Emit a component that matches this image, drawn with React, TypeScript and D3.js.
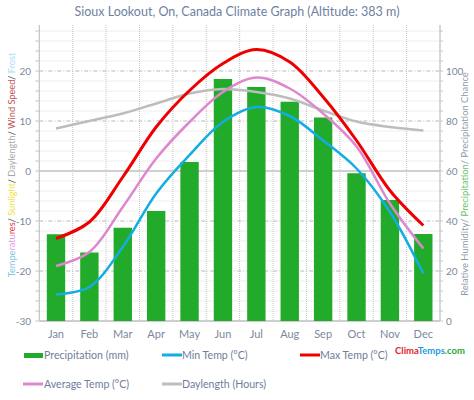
import React from "react";
import * as d3 from "d3";

const months = ["Jan", "Feb", "Mar", "Apr", "May", "Jun", "Jul", "Aug", "Sep", "Oct", "Nov", "Dec"];
const precipitation = [34.7, 27.4, 37.3, 44, 63.6, 96.8, 93.6, 87.7, 81.4, 59.1, 48.4, 34.8];
const maxTemp = [-13.5, -10.2, -1.2, 8.8, 16.1, 21.5, 24.3, 21.8, 14.8, 6.1, -3.9, -10.9];
const avgTemp = [-19, -16.2, -7.2, 2.5, 9.8, 15.8, 18.7, 16.5, 11.5, 4.9, -6.5, -15.5];
const minTemp = [-24.7, -23.2, -15.2, -4.5, 3.2, 9.8, 12.8, 11, 6.1, 0.5, -8.2, -20.5];
const daylength = [8.5, 10, 11.5, 13.5, 15.5, 16.4, 15.8, 14.5, 12.1, 9.9, 8.8, 8.1];
const leftTicks = [-30, -20, -10, 0, 10, 20];
const rightTicks = [0, 20, 40, 60, 80, 100];

const FONT = "Lato, 'Open Sans', sans-serif";
const TICK = "#7d889c";

export default function App() {
  const L = 39.3, R = 440, T = 25, B = 321;
  const x = d3.scalePoint<string>().domain(months).range([L, R]).padding(0.5);
  const step = x.step();
  const yL = d3.scaleLinear().domain([-30, 30]).range([B, B - 300]);
  const yR = d3.scaleLinear().domain([0, 120]).range([B, B - 300]);
  const barW = step * 0.55;

  const line = (vals: number[]) =>
    d3.line<number>()
      .x((_, i) => x(months[i]) as number)
      .y((v) => yL(v))
      .curve(d3.curveCatmullRom.alpha(0.5))(vals) as string;

  const minor = d3.range(-30, 29, 2);
  const vlines = d3.range(0, 13).map((i) => L + i * step);

  return (
    <svg width={474} height={400} style={{ position: "absolute", left: 0, top: 0 }} fontFamily={FONT}>
      <rect width={474} height={400} fill="#fff" />
      <text x={237} y={16} textAnchor="middle" fontSize={12.5} fill="#6f7f9f">
        Sioux Lookout, On, Canada Climate Graph (Altitude: 383 m)
      </text>

      {/* grid */}
      {minor.map((v) => {
        const major = v % 10 === 0;
        return (
          <line key={"h" + v} x1={L} x2={R} y1={yL(v)} y2={yL(v)}
            stroke={v === 0 ? "#a0a0a0" : major ? "#b8b8b8" : "#dedede"}
            strokeWidth={1}
            strokeDasharray={v === 0 || v === -30 ? undefined : major ? "4,2,1,2" : "1,1"} />
        );
      })}
      {vlines.map((vx, i) => (
        <line key={"v" + i} x1={vx} x2={vx} y1={T} y2={B} stroke="#c4c4c4" strokeDasharray="1,1" />
      ))}
      {minor.map((v) => (
        <g key={"t" + v}>
          <line x1={L - 4} x2={L} y1={yL(v)} y2={yL(v)} stroke="#c8c8c8" />
          <line x1={R} x2={R + 3} y1={yL(v)} y2={yL(v)} stroke="#c8c8c8" />
        </g>
      ))}
      <line x1={L} x2={L} y1={T} y2={B} stroke="#c0c0c0" />
      <line x1={R} x2={R} y1={T} y2={B} stroke="#c0c0c0" />
      <line x1={L} x2={R} y1={B} y2={B} stroke="#c0c0c0" />

      {/* bars */}
      {precipitation.map((p, i) => (
        <rect key={"b" + i} x={(x(months[i]) as number) - barW / 2} y={yR(p)} width={barW}
          height={B - yR(p)} fill="#22aa2b" />
      ))}

      {/* lines */}
      <path d={line(daylength)} fill="none" stroke="#bdbdbd" strokeWidth={2.5} />
      <path d={line(minTemp)} fill="none" stroke="#12aee2" strokeWidth={2.5} />
      <path d={line(avgTemp)} fill="none" stroke="#dd88cc" strokeWidth={2.5} />
      <path d={line(maxTemp)} fill="none" stroke="#ee0000" strokeWidth={3} />

      {/* ticks */}
      {leftTicks.map((v) => (
        <text key={"lt" + v} x={31} y={yL(v) + 3.5} textAnchor="end" fontSize={10} fill={TICK}>{v}</text>
      ))}
      {rightTicks.map((v) => (
        <text key={"rt" + v} x={446} y={yR(v) + 3.5} textAnchor="start" fontSize={10} fill={TICK}>{v}</text>
      ))}
      {months.map((m) => (
        <text key={m} x={x(m) as number} y={338} textAnchor="middle" fontSize={11} fill={TICK}>{m}</text>
      ))}

      {/* left axis title */}
      <text transform="translate(15,165) rotate(-90)" textAnchor="middle" fontSize={9.2}>
        <tspan fill="#7cc6e6">Tempe</tspan>
        <tspan fill="#e49ad8">ratu</tspan>
        <tspan fill="#e03a3a">res</tspan>
        <tspan fill="#333">/ </tspan>
        <tspan fill="#f2e23a">Sunlight</tspan>
        <tspan fill="#333">/ </tspan>
        <tspan fill="#a8a8a8">Daylength</tspan>
        <tspan fill="#333">/ </tspan>
        <tspan fill="#c0504d">Wind Speed</tspan>
        <tspan fill="#333">/ </tspan>
        <tspan fill="#a9dcf2">Frost</tspan>
      </text>
      {/* right axis title */}
      <text transform="translate(468,184) rotate(-90)" textAnchor="middle" fontSize={9.4}>
        <tspan fill="#8f9aa8">Relative Humidity/ </tspan>
        <tspan fill="#66c066">Precipitation</tspan>
        <tspan fill="#8f9aa8">/ Precipitation Chance</tspan>
      </text>

      {/* legend */}
      <g fontSize={10.6} fill="#6f7d99">
        <rect x={24} y={353} width={19} height={5} fill="#22aa2b" />
        <text x={44} y={359}>Precipitation (mm)</text>
        <line x1={162} x2={182} y1={355} y2={355} stroke="#12aee2" strokeWidth={3} />
        <text x={182} y={359}>Min Temp (°C)</text>
        <line x1={300} x2={320} y1={355} y2={355} stroke="#ee0000" strokeWidth={3} />
        <text x={320} y={359}>Max Temp (°C)</text>
        <line x1={23} x2={43} y1={384} y2={384} stroke="#dd88cc" strokeWidth={3} />
        <text x={44} y={388}>Average Temp (°C)</text>
        <line x1={162} x2={182} y1={384} y2={384} stroke="#bdbdbd" strokeWidth={3} />
        <text x={182} y={388}>Daylength (Hours)</text>
      </g>
      <text x={395} y={354} fontSize={9.5} fontWeight="bold">
        <tspan fill="#e8202a">Clima</tspan>
        <tspan fill="#1e9be0">Temps</tspan>
        <tspan fill="#2aa838">.com</tspan>
      </text>
    </svg>
  );
}
